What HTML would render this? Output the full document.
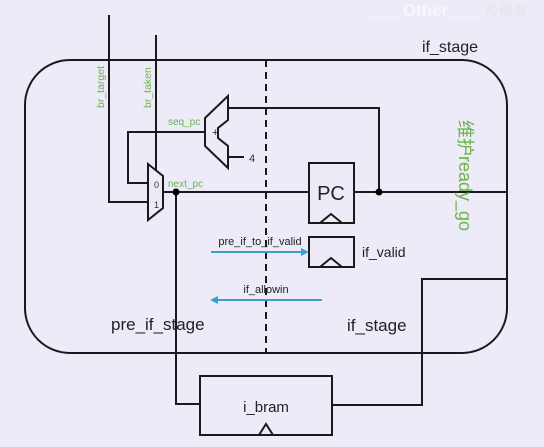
<!DOCTYPE html>
<html><head><meta charset="utf-8"><style>
html,body{margin:0;padding:0;background:#ecebf7;}
svg{display:block;}
text{font-family:"Liberation Sans","Noto Sans CJK SC",sans-serif;}
</style></head><body>
<svg width="544" height="447" viewBox="0 0 544 447" xmlns="http://www.w3.org/2000/svg">
<rect width="544" height="447" fill="#ecebf7"/>
<text x="365" y="16" font-size="17" fill="#f7f7fc" font-weight="bold">____Other____</text>
<text x="485" y="16" font-size="14" fill="#e4e4ea">投稿者</text>
<g fill="none" stroke="#1a1a1a" stroke-width="2">
<rect x="25" y="60" width="482" height="293" rx="45" ry="45"/>
<line x1="266" y1="60" x2="266" y2="353" stroke-dasharray="7,5"/>
<polyline points="109,15 109,202 148,202"/>
<line x1="156" y1="35" x2="156" y2="170"/>
<polygon points="148,164 163,176 163,208 148,220"/>
<polygon points="228,96 228,120 218,128 218,138 228,146 228,168 205,146 205,118"/>
<polyline points="228,108 379,108 379,192"/>
<polyline points="205,132 128,132 128,183 148,183"/>
<line x1="228" y1="157" x2="244" y2="157"/>
<line x1="163" y1="192" x2="309" y2="192"/>
<line x1="354" y1="192" x2="507" y2="192"/>
<polyline points="176,192 176,404 200,404"/>
<rect x="309" y="163" width="45" height="60"/>
<polyline points="320,223 331,214 342,223"/>
<rect x="309" y="237" width="45" height="30"/>
<polyline points="320,267 331,258 342,267"/>
<polyline points="507,279 422,279 422,405 332,405"/>
<rect x="200" y="376" width="132" height="59"/>
<polyline points="259,435 266,424 273,435"/>
</g>
<circle cx="176" cy="192" r="3.5" fill="#000"/>
<circle cx="379" cy="192" r="3.5" fill="#000"/>
<text x="212" y="136" font-size="11" fill="#222">+</text>
<text x="154" y="188" font-size="9" fill="#333">0</text>
<text x="154" y="208" font-size="9" fill="#333">1</text>
<text x="249" y="162" font-size="11" fill="#333">4</text>
<text x="331" y="200" font-size="20" fill="#222" text-anchor="middle">PC</text>
<text x="362" y="257" font-size="14" fill="#222">if_valid</text>
<text x="266" y="412" font-size="15" fill="#222" text-anchor="middle">i_bram</text>
<text x="111" y="330" font-size="17" fill="#222">pre_if_stage</text>
<text x="347" y="331" font-size="17" fill="#222">if_stage</text>
<text x="422" y="52" font-size="16" fill="#222">if_stage</text>
<g fill="#6cb34c" font-size="10.5">
<text transform="translate(104,108) rotate(-90)">br_target</text>
<text transform="translate(151,108) rotate(-90)">br_taken</text>
<text x="168" y="125" font-size="10">seq_pc</text>
<text x="168" y="187" font-size="10">next_pc</text>
</g>
<text transform="translate(459,120) rotate(90)" font-size="18" fill="#6cb34c">维护ready_go</text>
<g stroke="#3aa0d0" stroke-width="2" fill="#3aa0d0">
<line x1="211" y1="252" x2="302" y2="252"/>
<polygon points="309,252 301,248 301,256" stroke="none"/>
<line x1="322" y1="300" x2="217" y2="300"/>
<polygon points="210,300 218,296 218,304" stroke="none"/>
</g>
<text x="260" y="245" font-size="11" fill="#222" text-anchor="middle">pre_if_to_if_valid</text>
<text x="266" y="293" font-size="11" fill="#222" text-anchor="middle">if_allowin</text>
</svg>
</body></html>
